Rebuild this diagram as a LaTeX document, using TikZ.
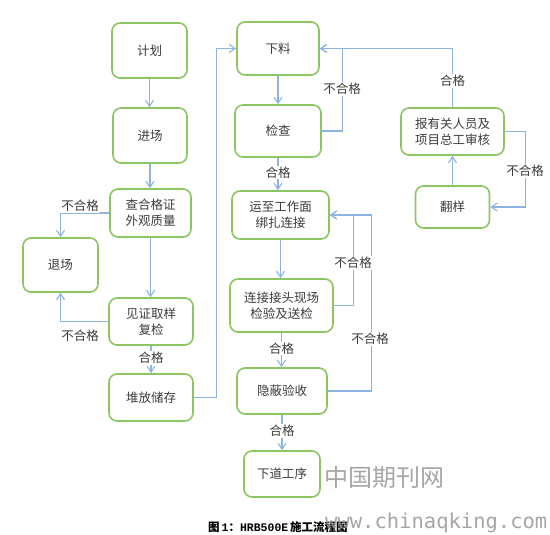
\documentclass[tikz,border=0pt]{standalone}
\usepackage{fontspec}
\newfontfamily\cjk{Noto Sans CJK SC}
\newfontfamily\monof{Liberation Mono}
\newfontfamily\wmono{DejaVu Sans Mono}
\usetikzlibrary{arrows.meta,calc}
\definecolor{boxgreen}{RGB}{140,198,98}
\definecolor{arrblue}{RGB}{141,179,226}
\definecolor{txtgray}{RGB}{60,60,60}
\definecolor{wmgray}{RGB}{150,150,150}
\begin{document}
\begin{tikzpicture}[x=1pt,y=-1pt,
  box/.style={draw=boxgreen,line width=1.6pt,rounded corners=8pt,fill=white,
    inner sep=0pt,align=center,text=txtgray,font=\cjk\fontsize{12.5}{16}\selectfont},
  arr/.style={draw=arrblue,line width=1.1pt,-{Straight Barb[length=6pt,width=8pt]}},
  lab/.style={fill=white,inner sep=1pt,text=txtgray,font=\cjk\fontsize{12.5}{15}\selectfont}]
\useasboundingbox (0,0) rectangle (550,535);
% left column
\node[box,minimum width=75pt,minimum height=55pt] (jh) at (149.5,50.5) {计划};
\node[box,minimum width=74pt,minimum height=55pt] (jc) at (150,135.5) {进场};
\node[box,minimum width=81pt,minimum height=48pt] (cz) at (150.5,213) {查合格证\\外观质量};
\node[box,minimum width=75pt,minimum height=54pt] (tc) at (60.5,265) {退场};
\node[box,minimum width=84pt,minimum height=47pt] (jz) at (151,321.5) {见证取样\\复检};
\node[box,minimum width=84pt,minimum height=47pt] (dc) at (151,397.5) {堆放储存};
% middle column
\node[box,minimum width=82pt,minimum height=53pt] (xl) at (278,48.5) {下料};
\node[box,minimum width=86pt,minimum height=52pt] (jch) at (278,131) {检查};
\node[box,minimum width=97pt,minimum height=48pt] (yz) at (280.5,215) {运至工作面\\绑扎连接};
\node[box,minimum width=103pt,minimum height=53pt] (lj) at (281.5,305.5) {连接接头现场\\检验及送检};
\node[box,minimum width=90pt,minimum height=46pt] (yb) at (282,391) {隐蔽验收};
\node[box,minimum width=76pt,minimum height=46pt] (xd) at (282,474) {下道工序};
% right column
\node[box,minimum width=103pt,minimum height=47pt] (bg) at (452.5,131.5) {报有关人员及\\项目总工审核};
\node[box,minimum width=74pt,minimum height=42pt] (fy) at (452.5,207) {翻样};
% left arrows
\draw[arr] (jh.south) -- (jh.south |- jc.north);
\draw[arr] (jc.south) -- (jc.south |- cz.north);
\draw[arr] (cz.south) -- (cz.south |- jz.north);
\draw[arr] (jz.south) -- node[lab,pos=0.45]{合格} (jz.south |- dc.north);
\draw[arr] (cz.west) -| (tc.north);
\draw[arr] (jz.west) -| (tc.south);
\draw[arr] (dc.east) -- ++(23,0) |- (xl.west);
% middle arrows
\draw[arr] (xl.south) -- (xl.south |- jch.north);
\draw[arr] (jch.south) -- node[lab,pos=0.45]{合格} (jch.south |- yz.north);
\draw[arr] (yz.south) -- (yz.south |- lj.north);
\draw[arr] (lj.south) -- node[lab,pos=0.45]{合格} (lj.south |- yb.north);
\draw[arr] (yb.south) -- node[lab,pos=0.45]{合格} (yb.south |- xd.north);
\draw[arr] (jch.east) -- ++(21,0) |- (xl.east);
\draw[arr] (lj.east) -- ++(20,0) |- (yz.east);
\draw[arr] (yb.east) -- ++(44,0) |- (yz.east);
% right arrows
\draw[arr] (bg.north) |- (xl.east);
\draw[arr] (fy.north) -- (bg.south);
\draw[arr] (bg.east) -- ++(21,0) |- (fy.east);
% labels on loops
\node[lab] (l1) at (80,206) {不合格};
\node[lab] (l2) at (80,336) {不合格};
\node[lab] (l3) at (342,89) {不合格};
\node[lab] (l4) at (452.5,81) {合格};
\node[lab] (l5) at (525,171) {不合格};
\node[lab] (l6) at (353,263) {不合格};
\node[lab] (l7) at (370,339) {不合格};
% caption
\node[anchor=west,inner sep=0pt,text=black,font=\fontsize{11.5}{13}\selectfont] (cap) at (208,527)
  {{\cjk\bfseries 图}\,{\monof\bfseries 1}{\cjk\bfseries ：}{\monof\bfseries HRB500E}\,{\cjk\bfseries 施工流程图}};
% watermark
\node[anchor=west,inner sep=0pt,text=wmgray,opacity=0.85,font=\cjk\fontsize{24}{26}\selectfont] (wm1) at (324,477) {中国期刊网};
\node[anchor=west,inner sep=0pt,text=wmgray,opacity=0.85,font=\wmono\fontsize{20.5}{24}\selectfont] (wm2) at (325,523) {www.chinaqking.com};
\end{tikzpicture}
\end{document}
